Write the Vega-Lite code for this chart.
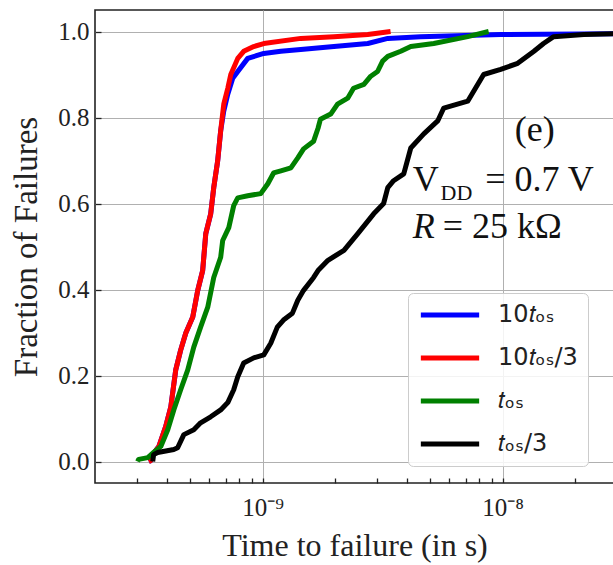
{
  "$schema": "https://vega.github.io/schema/vega-lite/v6.json",
  "width": 519,
  "height": 473,
  "autosize": {"type": "none"},
  "padding": {"left": 95, "top": 10, "right": 0, "bottom": 82},
  "background": "white",
  "config": {
    "view": {"stroke": "#222222", "strokeWidth": 1.6},
    "font": "Liberation Serif"
  },
  "datasets": {
    "curves": [
      {"s": "10𝑡ₒₛ", "t": 3.35e-10, "f": 0.0},
      {"s": "10𝑡ₒₛ", "t": 3.41e-10, "f": 0.002},
      {"s": "10𝑡ₒₛ", "t": 3.48e-10, "f": 0.016},
      {"s": "10𝑡ₒₛ", "t": 3.69e-10, "f": 0.035},
      {"s": "10𝑡ₒₛ", "t": 3.94e-10, "f": 0.081},
      {"s": "10𝑡ₒₛ", "t": 4.14e-10, "f": 0.127},
      {"s": "10𝑡ₒₛ", "t": 4.34e-10, "f": 0.213},
      {"s": "10𝑡ₒₛ", "t": 4.55e-10, "f": 0.259},
      {"s": "10𝑡ₒₛ", "t": 4.78e-10, "f": 0.299},
      {"s": "10𝑡ₒₛ", "t": 5.11e-10, "f": 0.336},
      {"s": "10𝑡ₒₛ", "t": 5.36e-10, "f": 0.398},
      {"s": "10𝑡ₒₛ", "t": 5.62e-10, "f": 0.444},
      {"s": "10𝑡ₒₛ", "t": 5.79e-10, "f": 0.53},
      {"s": "10𝑡ₒₛ", "t": 6.07e-10, "f": 0.576},
      {"s": "10𝑡ₒₛ", "t": 6.25e-10, "f": 0.637},
      {"s": "10𝑡ₒₛ", "t": 6.49e-10, "f": 0.699},
      {"s": "10𝑡ₒₛ", "t": 6.68e-10, "f": 0.769},
      {"s": "10𝑡ₒₛ", "t": 6.88e-10, "f": 0.815},
      {"s": "10𝑡ₒₛ", "t": 7.15e-10, "f": 0.854},
      {"s": "10𝑡ₒₛ", "t": 7.5e-10, "f": 0.891},
      {"s": "10𝑡ₒₛ", "t": 7.87e-10, "f": 0.907},
      {"s": "10𝑡ₒₛ", "t": 8.66e-10, "f": 0.9375},
      {"s": "10𝑡ₒₛ", "t": 1.01e-9, "f": 0.949},
      {"s": "10𝑡ₒₛ", "t": 1.19e-9, "f": 0.954},
      {"s": "10𝑡ₒₛ", "t": 1.44e-9, "f": 0.958},
      {"s": "10𝑡ₒₛ", "t": 1.98e-9, "f": 0.965},
      {"s": "10𝑡ₒₛ", "t": 2.74e-9, "f": 0.972},
      {"s": "10𝑡ₒₛ", "t": 3.32e-9, "f": 0.984},
      {"s": "10𝑡ₒₛ", "t": 4.55e-9, "f": 0.988},
      {"s": "10𝑡ₒₛ", "t": 9.81e-9, "f": 0.993},
      {"s": "10𝑡ₒₛ", "t": 2.9e-8, "f": 0.995},
      {"s": "10𝑡ₒₛ", "t": 3.5e-8, "f": 0.997},

      {"s": "10𝑡ₒₛ/3", "t": 3.35e-10, "f": 0.0},
      {"s": "10𝑡ₒₛ/3", "t": 3.41e-10, "f": 0.002},
      {"s": "10𝑡ₒₛ/3", "t": 3.48e-10, "f": 0.016},
      {"s": "10𝑡ₒₛ/3", "t": 3.69e-10, "f": 0.035},
      {"s": "10𝑡ₒₛ/3", "t": 3.94e-10, "f": 0.081},
      {"s": "10𝑡ₒₛ/3", "t": 4.14e-10, "f": 0.127},
      {"s": "10𝑡ₒₛ/3", "t": 4.34e-10, "f": 0.213},
      {"s": "10𝑡ₒₛ/3", "t": 4.55e-10, "f": 0.259},
      {"s": "10𝑡ₒₛ/3", "t": 4.78e-10, "f": 0.299},
      {"s": "10𝑡ₒₛ/3", "t": 5.11e-10, "f": 0.336},
      {"s": "10𝑡ₒₛ/3", "t": 5.36e-10, "f": 0.398},
      {"s": "10𝑡ₒₛ/3", "t": 5.62e-10, "f": 0.444},
      {"s": "10𝑡ₒₛ/3", "t": 5.79e-10, "f": 0.53},
      {"s": "10𝑡ₒₛ/3", "t": 6.07e-10, "f": 0.576},
      {"s": "10𝑡ₒₛ/3", "t": 6.25e-10, "f": 0.637},
      {"s": "10𝑡ₒₛ/3", "t": 6.49e-10, "f": 0.699},
      {"s": "10𝑡ₒₛ/3", "t": 6.68e-10, "f": 0.769},
      {"s": "10𝑡ₒₛ/3", "t": 6.88e-10, "f": 0.831},
      {"s": "10𝑡ₒₛ/3", "t": 7.15e-10, "f": 0.868},
      {"s": "10𝑡ₒₛ/3", "t": 7.36e-10, "f": 0.9},
      {"s": "10𝑡ₒₛ/3", "t": 7.87e-10, "f": 0.9375},
      {"s": "10𝑡ₒₛ/3", "t": 8.33e-10, "f": 0.954},
      {"s": "10𝑡ₒₛ/3", "t": 9.17e-10, "f": 0.965},
      {"s": "10𝑡ₒₛ/3", "t": 1.01e-9, "f": 0.972},
      {"s": "10𝑡ₒₛ/3", "t": 1.44e-9, "f": 0.984},
      {"s": "10𝑡ₒₛ/3", "t": 1.98e-9, "f": 0.988},
      {"s": "10𝑡ₒₛ/3", "t": 2.74e-9, "f": 0.993},
      {"s": "10𝑡ₒₛ/3", "t": 3.41e-9, "f": 1.0},

      {"s": "𝑡ₒₛ", "t": 3.01e-10, "f": 0.0},
      {"s": "𝑡ₒₛ", "t": 3.04e-10, "f": 0.005},
      {"s": "𝑡ₒₛ", "t": 3.32e-10, "f": 0.009},
      {"s": "𝑡ₒₛ", "t": 3.51e-10, "f": 0.021},
      {"s": "𝑡ₒₛ", "t": 3.76e-10, "f": 0.035},
      {"s": "𝑡ₒₛ", "t": 4.02e-10, "f": 0.074},
      {"s": "𝑡ₒₛ", "t": 4.26e-10, "f": 0.12},
      {"s": "𝑡ₒₛ", "t": 4.55e-10, "f": 0.167},
      {"s": "𝑡ₒₛ", "t": 4.87e-10, "f": 0.213},
      {"s": "𝑡ₒₛ", "t": 5.16e-10, "f": 0.266},
      {"s": "𝑡ₒₛ", "t": 5.51e-10, "f": 0.3125},
      {"s": "𝑡ₒₛ", "t": 5.9e-10, "f": 0.359},
      {"s": "𝑡ₒₛ", "t": 6.25e-10, "f": 0.428},
      {"s": "𝑡ₒₛ", "t": 6.68e-10, "f": 0.475},
      {"s": "𝑡ₒₛ", "t": 6.81e-10, "f": 0.514},
      {"s": "𝑡ₒₛ", "t": 7.22e-10, "f": 0.544},
      {"s": "𝑡ₒₛ", "t": 7.57e-10, "f": 0.595},
      {"s": "𝑡ₒₛ", "t": 7.87e-10, "f": 0.613},
      {"s": "𝑡ₒₛ", "t": 8.66e-10, "f": 0.618},
      {"s": "𝑡ₒₛ", "t": 9.81e-10, "f": 0.623},
      {"s": "𝑡ₒₛ", "t": 1.05e-9, "f": 0.646},
      {"s": "𝑡ₒₛ", "t": 1.11e-9, "f": 0.671},
      {"s": "𝑡ₒₛ", "t": 1.19e-9, "f": 0.676},
      {"s": "𝑡ₒₛ", "t": 1.31e-9, "f": 0.683},
      {"s": "𝑡ₒₛ", "t": 1.4e-9, "f": 0.706},
      {"s": "𝑡ₒₛ", "t": 1.48e-9, "f": 0.727},
      {"s": "𝑡ₒₛ", "t": 1.63e-9, "f": 0.745},
      {"s": "𝑡ₒₛ", "t": 1.7e-9, "f": 0.775},
      {"s": "𝑡ₒₛ", "t": 1.74e-9, "f": 0.796},
      {"s": "𝑡ₒₛ", "t": 1.92e-9, "f": 0.808},
      {"s": "𝑡ₒₛ", "t": 2.05e-9, "f": 0.831},
      {"s": "𝑡ₒₛ", "t": 2.26e-9, "f": 0.845},
      {"s": "𝑡ₒₛ", "t": 2.39e-9, "f": 0.868},
      {"s": "𝑡ₒₛ", "t": 2.64e-9, "f": 0.877},
      {"s": "𝑡ₒₛ", "t": 2.82e-9, "f": 0.896},
      {"s": "𝑡ₒₛ", "t": 3.01e-9, "f": 0.907},
      {"s": "𝑡ₒₛ", "t": 3.16e-9, "f": 0.931},
      {"s": "𝑡ₒₛ", "t": 3.32e-9, "f": 0.942},
      {"s": "𝑡ₒₛ", "t": 3.76e-9, "f": 0.954},
      {"s": "𝑡ₒₛ", "t": 4.14e-9, "f": 0.965},
      {"s": "𝑡ₒₛ", "t": 5.16e-9, "f": 0.972},
      {"s": "𝑡ₒₛ", "t": 7.15e-9, "f": 0.988},
      {"s": "𝑡ₒₛ", "t": 8.74e-9, "f": 1.0},

      {"s": "𝑡ₒₛ/3", "t": 3.48e-10, "f": 0.0},
      {"s": "𝑡ₒₛ/3", "t": 3.51e-10, "f": 0.016},
      {"s": "𝑡ₒₛ/3", "t": 3.65e-10, "f": 0.021},
      {"s": "𝑡ₒₛ/3", "t": 4.26e-10, "f": 0.028},
      {"s": "𝑡ₒₛ/3", "t": 4.42e-10, "f": 0.032},
      {"s": "𝑡ₒₛ/3", "t": 4.69e-10, "f": 0.0625},
      {"s": "𝑡ₒₛ/3", "t": 5.16e-10, "f": 0.074},
      {"s": "𝑡ₒₛ/3", "t": 5.51e-10, "f": 0.09},
      {"s": "𝑡ₒₛ/3", "t": 6.07e-10, "f": 0.104},
      {"s": "𝑡ₒₛ/3", "t": 6.68e-10, "f": 0.12},
      {"s": "𝑡ₒₛ/3", "t": 7.15e-10, "f": 0.137},
      {"s": "𝑡ₒₛ/3", "t": 7.57e-10, "f": 0.167},
      {"s": "𝑡ₒₛ/3", "t": 7.87e-10, "f": 0.197},
      {"s": "𝑡ₒₛ/3", "t": 8.33e-10, "f": 0.229},
      {"s": "𝑡ₒₛ/3", "t": 9.17e-10, "f": 0.241},
      {"s": "𝑡ₒₛ/3", "t": 1.01e-9, "f": 0.248},
      {"s": "𝑡ₒₛ/3", "t": 1.08e-9, "f": 0.275},
      {"s": "𝑡ₒₛ/3", "t": 1.15e-9, "f": 0.3125},
      {"s": "𝑡ₒₛ/3", "t": 1.22e-9, "f": 0.329},
      {"s": "𝑡ₒₛ/3", "t": 1.33e-9, "f": 0.345},
      {"s": "𝑡ₒₛ/3", "t": 1.4e-9, "f": 0.375},
      {"s": "𝑡ₒₛ/3", "t": 1.48e-9, "f": 0.398},
      {"s": "𝑡ₒₛ/3", "t": 1.63e-9, "f": 0.428},
      {"s": "𝑡ₒₛ/3", "t": 1.7e-9, "f": 0.444},
      {"s": "𝑡ₒₛ/3", "t": 1.87e-9, "f": 0.468},
      {"s": "𝑡ₒₛ/3", "t": 2.18e-9, "f": 0.491},
      {"s": "𝑡ₒₛ/3", "t": 2.49e-9, "f": 0.53},
      {"s": "𝑡ₒₛ/3", "t": 2.9e-9, "f": 0.576},
      {"s": "𝑡ₒₛ/3", "t": 3.19e-9, "f": 0.6},
      {"s": "𝑡ₒₛ/3", "t": 3.32e-9, "f": 0.637},
      {"s": "𝑡ₒₛ/3", "t": 3.51e-9, "f": 0.653},
      {"s": "𝑡ₒₛ/3", "t": 3.87e-9, "f": 0.669},
      {"s": "𝑡ₒₛ/3", "t": 4.14e-9, "f": 0.729},
      {"s": "𝑡ₒₛ/3", "t": 4.69e-9, "f": 0.762},
      {"s": "𝑡ₒₛ/3", "t": 5.36e-9, "f": 0.792},
      {"s": "𝑡ₒₛ/3", "t": 5.68e-9, "f": 0.822},
      {"s": "𝑡ₒₛ/3", "t": 7.15e-9, "f": 0.838},
      {"s": "𝑡ₒₛ/3", "t": 8.33e-9, "f": 0.9},
      {"s": "𝑡ₒₛ/3", "t": 9.81e-9, "f": 0.912},
      {"s": "𝑡ₒₛ/3", "t": 1.155e-8, "f": 0.926},
      {"s": "𝑡ₒₛ/3", "t": 1.35e-8, "f": 0.954},
      {"s": "𝑡ₒₛ/3", "t": 1.48e-8, "f": 0.972},
      {"s": "𝑡ₒₛ/3", "t": 1.63e-8, "f": 0.988},
      {"s": "𝑡ₒₛ/3", "t": 2.18e-8, "f": 0.993},
      {"s": "𝑡ₒₛ/3", "t": 2.9e-8, "f": 0.995},
      {"s": "𝑡ₒₛ/3", "t": 3.5e-8, "f": 0.997}
    ],
    "notes": [
      {"k": "e", "t": 1.36e-8, "f": 0.745, "label": "(e)"},
      {"k": "v", "t": 4.22e-9, "f": 0.63, "label": "V"},
      {"k": "dd", "t": 5.51e-9, "f": 0.608, "label": "DD"},
      {"k": "v2", "t": 8.45e-9, "f": 0.63, "label": "= 0.7 V"},
      {"k": "r", "t": 4.22e-9, "f": 0.52, "label": "R"},
      {"k": "r2", "t": 5.62e-9, "f": 0.52, "label": "= 25 kΩ"}
    ]
  },
  "encoding": {
    "x": {
      "field": "t", "type": "quantitative",
      "scale": {"type": "log", "domain": [2e-10, 2.91e-8], "nice": false},
      "axis": {
        "title": "Time to failure (in s)",
        "titleFont": "Liberation Serif", "titleFontSize": 32, "titleFontWeight": "normal", "titleColor": "#222222",
        "titlePadding": 10,
        "offset": -5,
        "domain": false,
        "values": [3e-10, 4e-10, 5e-10, 6e-10, 7e-10, 8e-10, 9e-10, 1e-9, 2e-9, 3e-9, 4e-9, 5e-9, 6e-9, 7e-9, 8e-9, 9e-9, 1e-8, 2e-8],
        "labelExpr": "datum.value > 0.99e-9 && datum.value < 1.01e-9 ? '10⁻⁹' : (datum.value > 0.99e-8 && datum.value < 1.01e-8 ? '10⁻⁸' : '')",
        "labelFont": "Liberation Serif", "labelFontSize": 25, "labelColor": "#222222",
        "labelPadding": 12,
        "labelFlush": false, "labelOverlap": false,
        "tickColor": "#222222", "tickWidth": 1.3, "tickSize": 5,
        "grid": true, "gridColor": "#b0b0b0", "gridWidth": 1,
        "gridOpacity": {"condition": {"test": "datum.value > 0.99e-9 && datum.value < 1.01e-9 || datum.value > 0.99e-8 && datum.value < 1.01e-8", "value": 1}, "value": 0}
      }
    },
    "y": {
      "field": "f", "type": "quantitative",
      "scale": {"domain": [-0.05, 1.05], "nice": false, "zero": false},
      "axis": {
        "title": "Fraction of Failures",
        "titleFont": "Liberation Serif", "titleFontSize": 33, "titleFontWeight": "normal", "titleColor": "#222222",
        "titlePadding": 14,
        "offset": -6,
        "domain": false,
        "values": [0, 0.2, 0.4, 0.6, 0.8, 1.0],
        "format": ".1f",
        "labelFont": "Liberation Serif", "labelFontSize": 25, "labelColor": "#222222",
        "labelPadding": 6,
        "tickColor": "#222222", "tickWidth": 1.3, "tickSize": 6,
        "grid": true, "gridColor": "#b0b0b0", "gridWidth": 1
      }
    }
  },
  "layer": [
    {
      "data": {"name": "curves"},
      "mark": {"type": "line", "strokeWidth": 5, "clip": true, "strokeJoin": "round", "interpolate": "linear"},
      "encoding": {
        "color": {
          "field": "s", "type": "nominal",
          "scale": {"domain": ["10𝑡ₒₛ", "10𝑡ₒₛ/3", "𝑡ₒₛ", "𝑡ₒₛ/3"], "range": ["#0000ff", "#ff0000", "#008000", "#000000"]},
          "legend": {
            "orient": "none", "legendX": 313, "legendY": 283,
            "title": null,
            "symbolType": "stroke", "symbolSize": 3400, "symbolStrokeWidth": 5,
            "labelFont": "DejaVu Sans", "labelFontSize": 24, "labelColor": "#222222",
            "labelOffset": 16,
            "clipHeight": 24,
            "fillColor": "rgba(255,255,255,0.85)", "strokeColor": "#cccccc",
            "cornerRadius": 5, "padding": 10, "rowPadding": 19
          }
        },
        "order": {"field": "t", "type": "quantitative"}
      }
    },
    {
      "data": {"name": "notes"},
      "transform": [{"filter": "datum.k == 'e'"}],
      "mark": {"type": "text", "font": "Liberation Serif", "fontSize": 36, "align": "center", "baseline": "alphabetic", "color": "#111111"},
      "encoding": {"text": {"field": "label"}}
    },
    {
      "data": {"name": "notes"},
      "transform": [{"filter": "datum.k == 'v' || datum.k == 'v2' || datum.k == 'r2'"}],
      "mark": {"type": "text", "font": "Liberation Serif", "fontSize": 36, "align": "left", "baseline": "alphabetic", "color": "#111111"},
      "encoding": {"text": {"field": "label"}}
    },
    {
      "data": {"name": "notes"},
      "transform": [{"filter": "datum.k == 'r'"}],
      "mark": {"type": "text", "font": "Liberation Serif", "fontSize": 36, "fontStyle": "italic", "align": "left", "baseline": "alphabetic", "color": "#111111"},
      "encoding": {"text": {"field": "label"}}
    },
    {
      "data": {"name": "notes"},
      "transform": [{"filter": "datum.k == 'dd'"}],
      "mark": {"type": "text", "font": "Liberation Serif", "fontSize": 22, "align": "left", "baseline": "alphabetic", "color": "#111111"},
      "encoding": {"text": {"field": "label"}}
    }
  ]
}
